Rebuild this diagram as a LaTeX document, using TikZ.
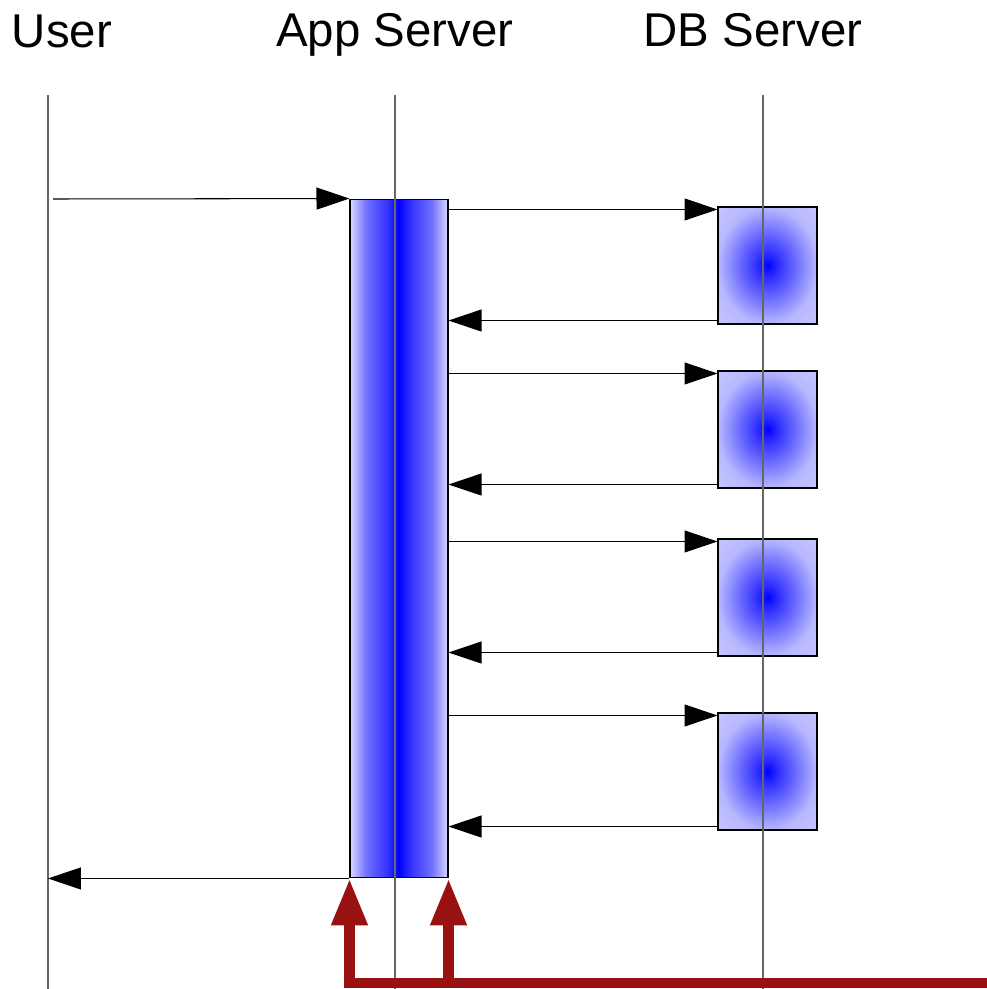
\documentclass[tikz,border=0pt]{standalone}
\usepackage{fontspec}
\setmainfont{Liberation Sans}
\usetikzlibrary{arrows.meta}

\definecolor{feedred}{RGB}{153,17,17}
\pgfdeclarehorizontalshading{actglow}{100bp}{color(0bp)=(blue!15); color(25bp)=(blue!15); color(33bp)=(blue!55); color(44bp)=(blue!80); color(50bp)=(blue); color(56bp)=(blue!80); color(67bp)=(blue!55); color(75bp)=(blue!15); color(100bp)=(blue!15)}
\pgfdeclareradialshading{dbglow}{\pgfpoint{0bp}{0bp}}{color(0bp)=(blue); color(6bp)=(blue!80); color(17bp)=(blue!50); color(25bp)=(blue!28); color(50bp)=(blue!15)}

\begin{document}
\begin{tikzpicture}[x = 0.02cm, y = -0.02cm,
        title/.style    = {anchor = base, font = \fontsize{27}{32}\selectfont},
        lifeline/.style = {draw = black!60, line width = 0.7pt},
        appbox/.style   = {draw, line width = 0.6pt, inner sep = 0,
                           minimum width = 1.96cm, minimum height = 13.58cm,
                           shade, shading = actglow},
        dbbox/.style    = {draw, line width = 0.6pt, inner sep = 0,
                           minimum width = 1.98cm, minimum height = 2.34cm,
                           shade, shading = dbglow},
        msg/.style      = {line width = 0.6pt, -{Triangle[length = 0.66cm, width = 0.44cm]}},
        feed/.style     = {draw = feedred, line width = 6pt, -{Triangle[length = 0.94cm, width = 0.68cm]}}]

    \useasboundingbox (0,0) rectangle (986,989);

    \node [title] (userlbl) at (62,48)  {User};
    \node [title] (applbl)  at (395,47) {App Server};
    \node [title] (dblbl)   at (753,47) {DB Server};

    % activations
    \node [appbox] (act) at (399,538.5) {};
    \foreach \i/\yc in {1/265.5, 2/429.5, 3/597.5, 4/771.5}
        \node [dbbox] (db\i) at (767.5,\yc) {};

    % lifelines
    \coordinate (userT) at (48,95);   \coordinate (userB) at (48,989);
    \coordinate (appT)  at (395,95);  \coordinate (appB)  at (395,989);
    \coordinate (dbT)   at (763,95);  \coordinate (dbB)   at (763,989);
    \draw [lifeline] (userT) -- (userB);
    \draw [lifeline] (appT)  -- (appB);
    \draw [lifeline] (dbT)   -- (dbB);

    % messages
    \coordinate (req) at (53,199);
    \draw [msg] (req) -- (act.north west);
    \foreach \i in {1,...,4} {
        \coordinate (call\i) at ([yshift = -0.06cm] db\i.north west);
        \coordinate (back\i) at ([yshift =  0.08cm] db\i.south west);
        \draw [msg] (act.east |- call\i) -- (call\i);
        \draw [msg] (back\i) -- (act.east |- back\i);
    }
    \draw [msg] (act.south west) -- (userT |- act.south west);

    % feedback
    \coordinate (feedin) at (1000,983);
    \draw [feed] (feedin) -| (act.south west);
    \draw [feed] (act.south east |- feedin) -- (act.south east);
\end{tikzpicture}
\end{document}
